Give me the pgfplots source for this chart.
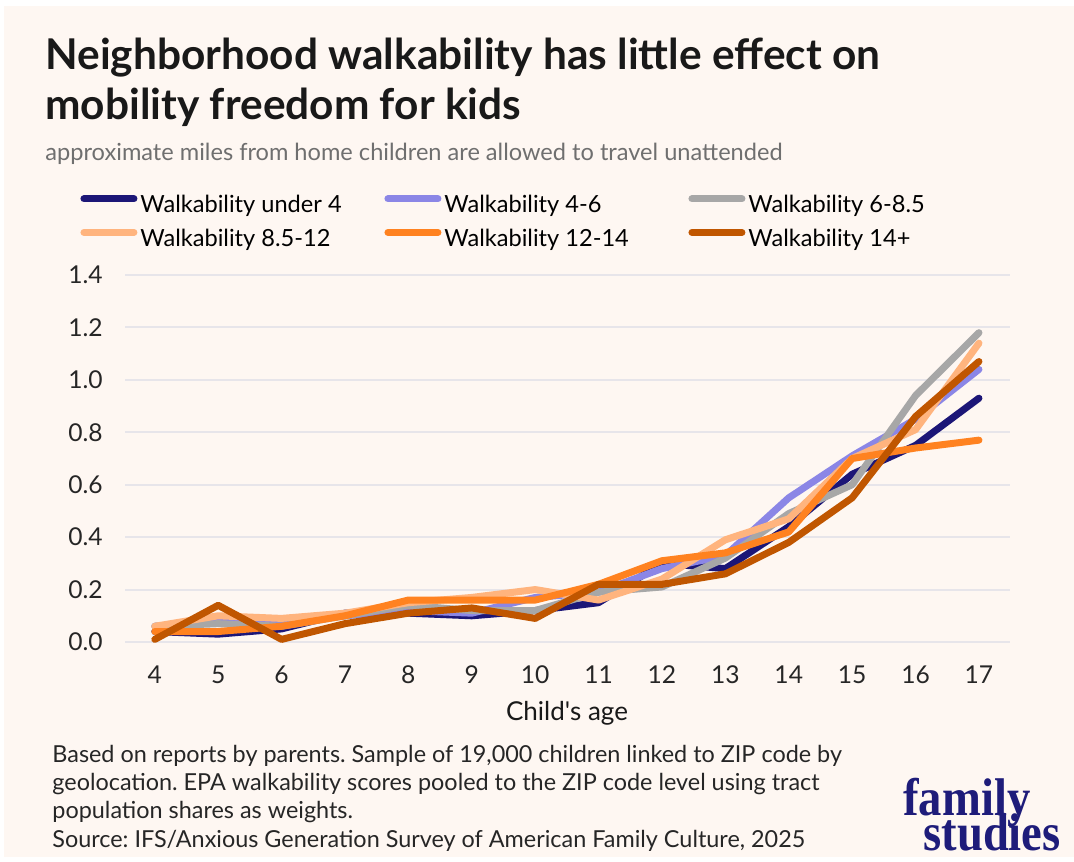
\documentclass[border=0pt]{standalone}
\usepackage{pgfplots}
\usepackage{pgfplotstable}
\pgfplotsset{compat=1.18}
\usepackage{fontspec}
\setmainfont{Lato}
\newfontfamily\logofont[FakeStretch=0.88]{Liberation Serif}
\frenchspacing

\definecolor{panel}{HTML}{FEF7F2}
\definecolor{gridc}{HTML}{E7E5EA}
\definecolor{subgray}{HTML}{6F6F6F}
\definecolor{cUfour}{HTML}{1C1677}
\definecolor{cFoursix}{HTML}{8B86E6}
\definecolor{cSixeight}{HTML}{A7A7A7}
\definecolor{cEighttwelve}{HTML}{FFB47E}
\definecolor{cTwelvefourteen}{HTML}{FF8220}
\definecolor{cFourteen}{HTML}{C05600}
\definecolor{logoblue}{HTML}{1E1C7A}

% miles from home, by child's age
\pgfplotstableread{
age  u4    w46   w685  w8512 w1214 w14
4    0.04  0.06  0.06  0.06  0.04  0.01
5    0.03  0.08  0.07  0.10  0.04  0.14
6    0.05  0.07  0.06  0.09  0.06  0.01
7    0.11  0.10  0.10  0.11  0.10  0.07
8    0.11  0.12  0.14  0.15  0.16  0.11
9    0.10  0.11  0.12  0.17  0.16  0.13
10   0.12  0.17  0.12  0.20  0.16  0.09
11   0.15  0.19  0.19  0.16  0.22  0.22
12   0.30  0.28  0.21  0.24  0.31  0.22
13   0.28  0.33  0.32  0.39  0.34  0.26
14   0.44  0.55  0.49  0.47  0.42  0.38
15   0.64  0.71  0.60  0.70  0.70  0.55
16   0.75  0.85  0.94  0.81  0.74  0.86
17   0.93  1.04  1.18  1.14  0.77  1.07
}\walkdata

\begin{document}
\begin{tikzpicture}[x=0.5pt,y=0.5pt]
\useasboundingbox (0,0) rectangle (1074,-861);
\fill[white] (0,0) rectangle (1074,-861);
\fill[panel] (4,-6) rectangle (1074,-857);

\node[anchor=base west,inner sep=0pt,font=\fontsize{21.2pt}{25pt}\selectfont\bfseries,text=black!90]
  at (45,-70) {Neighborhood walkability has little effect on};
\node[anchor=base west,inner sep=0pt,font=\fontsize{21.2pt}{25pt}\selectfont\bfseries,text=black!90]
  at (45,-120) {mobility freedom for kids};
\node[anchor=base west,inner sep=0pt,font=\fontsize{11.8pt}{14pt}\selectfont,text=subgray]
  at (45,-161) {approximate miles from home children are allowed to travel unattended};

\begin{axis}[
  at={(62.5pt,-321pt)}, anchor=south west,
  scale only axis, width=442.5pt, height=183.5pt,
  xmin=3.53, xmax=17.49, ymin=0, ymax=1.4,
  clip=false,
  axis line style={draw=none},
  major tick length=0pt,
  xtick={4,...,17}, ytick={0,0.2,...,1.4},
  ymajorgrids, grid style={gridc,line width=1pt},
  tick label style={font=\fontsize{12.3pt}{14pt}\selectfont,text=black!85},
  /pgf/number format/assume math mode=true,
  y tick label style={/pgf/number format/fixed,/pgf/number format/fixed zerofill,/pgf/number format/precision=1},
  yticklabel style={inner sep=0pt,anchor=east}, yticklabel shift=11pt,
  xticklabel style={inner sep=0pt,anchor=north}, xticklabel shift=11.5pt,
  every axis plot/.append style={line width=3.5pt,line join=round,line cap=round},
  legend columns=3,
  legend style={at={(-0.0508,1.218)},anchor=north west,draw=none,fill=none,
    inner sep=0pt, column sep=1.5pt, row sep=5.5pt,
    font=\fontsize{11.8pt}{14pt}\selectfont,
    nodes={inner sep=0pt,text height=8.5pt,text depth=2.5pt}},
  legend image code/.code={\draw[#1,line width=3.5pt,line cap=round] (1.75pt,4pt) -- (26.75pt,4pt);},
]
\addplot[cUfour] table[x=age,y=u4] {\walkdata};
\addlegendentry{\makebox[120.5pt][l]{Walkability under 4}}
\addplot[cFoursix] table[x=age,y=w46] {\walkdata};
\addlegendentry{\makebox[120.5pt][l]{Walkability 4-6}}
\addplot[cSixeight] table[x=age,y=w685] {\walkdata};
\addlegendentry{\makebox[120.5pt][l]{Walkability 6-8.5}}
\addplot[cEighttwelve] table[x=age,y=w8512] {\walkdata};
\addlegendentry{\makebox[120.5pt][l]{Walkability 8.5-12}}
\addplot[cTwelvefourteen] table[x=age,y=w1214] {\walkdata};
\addlegendentry{\makebox[120.5pt][l]{Walkability 12-14}}
\addplot[cFourteen] table[x=age,y=w14] {\walkdata};
\addlegendentry{\makebox[120.5pt][l]{Walkability 14+}}
\end{axis}

\node[font=\fontsize{13pt}{15pt}\selectfont,text=black!90] at (567,-713) {Child\textquotesingle s age};

\begin{scope}[every node/.style={anchor=base west,inner sep=0pt,font=\fontsize{11.7pt}{14pt}\selectfont,text=black!85}]
\node at (52,-762) {Based on reports by parents. Sample of 19,000 children linked to ZIP code by};
\node at (52,-790) {geolocation. EPA walkability scores pooled to the ZIP code level using tract};
\node at (52,-818) {population shares as weights.};
\node at (52,-847) {Source: IFS/Anxious Generation Survey of American Family Culture, 2025};
\end{scope}

\node[anchor=base west,inner sep=0pt,font=\logofont\bfseries\fontsize{26.5pt}{26pt}\selectfont,text=logoblue] at (903,-815) {family};
\node[anchor=base west,inner sep=0pt,font=\logofont\bfseries\fontsize{26.5pt}{26pt}\selectfont,text=logoblue] at (923,-850) {studies};
\end{tikzpicture}
\end{document}
